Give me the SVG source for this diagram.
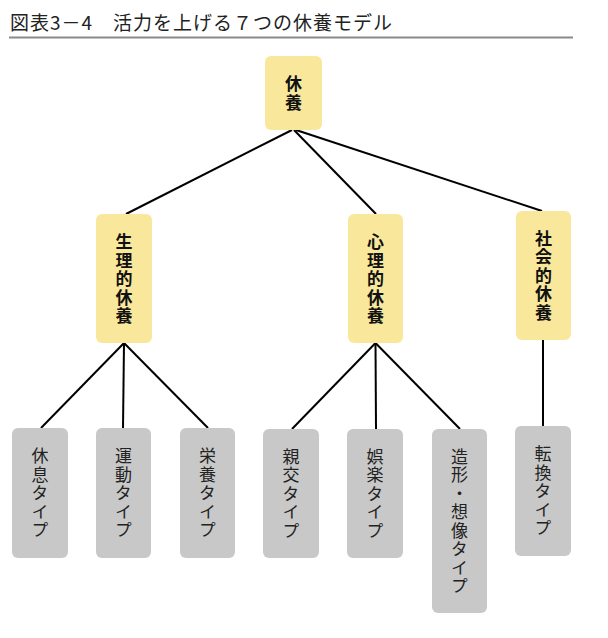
<svg xmlns="http://www.w3.org/2000/svg" width="608" height="638" viewBox="0 0 608 638">
<style>
.title{font-family:"Noto Sans CJK JP","Noto Sans",sans-serif;font-size:19px;fill:#222}
.y{fill:#f9e89b}
.g{fill:#c8c8c8}
.b,.r{font-family:"Noto Sans CJK JP",sans-serif;font-size:17px;text-anchor:middle;writing-mode:vertical-rl;text-orientation:upright;letter-spacing:1.5px}
.b{font-weight:bold;fill:#111}
.r{fill:#222}
.c{stroke:#000;stroke-width:2;fill:none}
</style>
<rect width="608" height="638" fill="#fff"/>
<g id="title">
<text class="title" x="10" y="30" textLength="382" lengthAdjust="spacing">図表3－4　活力を上げる７つの休養モデル</text>
<line x1="9" y1="37.5" x2="573" y2="37.5" stroke="#8a8a8a" stroke-width="2"/>
</g>
<g id="connectors">
<line class="c" x1="292" y1="130" x2="126" y2="214"/>
<line class="c" x1="294" y1="130" x2="376" y2="214"/>
<line class="c" x1="296" y1="130" x2="542" y2="211"/>
<line class="c" x1="124" y1="343" x2="41" y2="428"/>
<line class="c" x1="124" y1="343" x2="123" y2="428"/>
<line class="c" x1="124" y1="343" x2="208" y2="428"/>
<line class="c" x1="375.5" y1="343" x2="292" y2="429"/>
<line class="c" x1="375.5" y1="343" x2="376" y2="429"/>
<line class="c" x1="375.5" y1="343" x2="460" y2="429"/>
<line class="c" x1="543" y1="340" x2="543" y2="426"/>
</g>
<g id="n-kyuyo">
<rect class="y" x="265" y="56" width="57" height="74" rx="6"/>
<text class="b" x="293.5" y="93.75">休養</text>
</g>
<g id="n-seiri">
<rect class="y" x="96" y="214" width="56" height="129" rx="6"/>
<text class="b" x="124" y="279.75">生理的休養</text>
</g>
<g id="n-shinri">
<rect class="y" x="348" y="214" width="55" height="129" rx="6"/>
<text class="b" x="375.5" y="279.75">心理的休養</text>
</g>
<g id="n-shakai">
<rect class="y" x="516" y="211" width="55" height="129" rx="6"/>
<text class="b" x="543.5" y="276.25">社会的休養</text>
</g>
<g id="n-kyusoku">
<rect class="g" x="12" y="428" width="56" height="130" rx="6"/>
<text class="r" x="40" y="493.75">休息タイプ</text>
</g>
<g id="n-undo">
<rect class="g" x="96" y="428" width="55" height="130" rx="6"/>
<text class="r" x="123.5" y="493.75">運動タイプ</text>
</g>
<g id="n-eiyo">
<rect class="g" x="180" y="428" width="55" height="130" rx="6"/>
<text class="r" x="207.5" y="493.75">栄養タイプ</text>
</g>
<g id="n-shinko">
<rect class="g" x="263" y="429" width="56" height="129" rx="6"/>
<text class="r" x="291" y="494.25">親交タイプ</text>
</g>
<g id="n-goraku">
<rect class="g" x="347" y="429" width="56" height="129" rx="6"/>
<text class="r" x="375" y="494.25">娯楽タイプ</text>
</g>
<g id="n-zokei">
<rect class="g" x="432" y="429" width="55" height="184" rx="6"/>
<text class="r" x="459.5" y="521.75">造形・想像タイプ</text>
</g>
<g id="n-tenkan">
<rect class="g" x="515" y="426" width="56" height="130" rx="6"/>
<text class="r" x="543" y="491.75">転換タイプ</text>
</g>
</svg>
